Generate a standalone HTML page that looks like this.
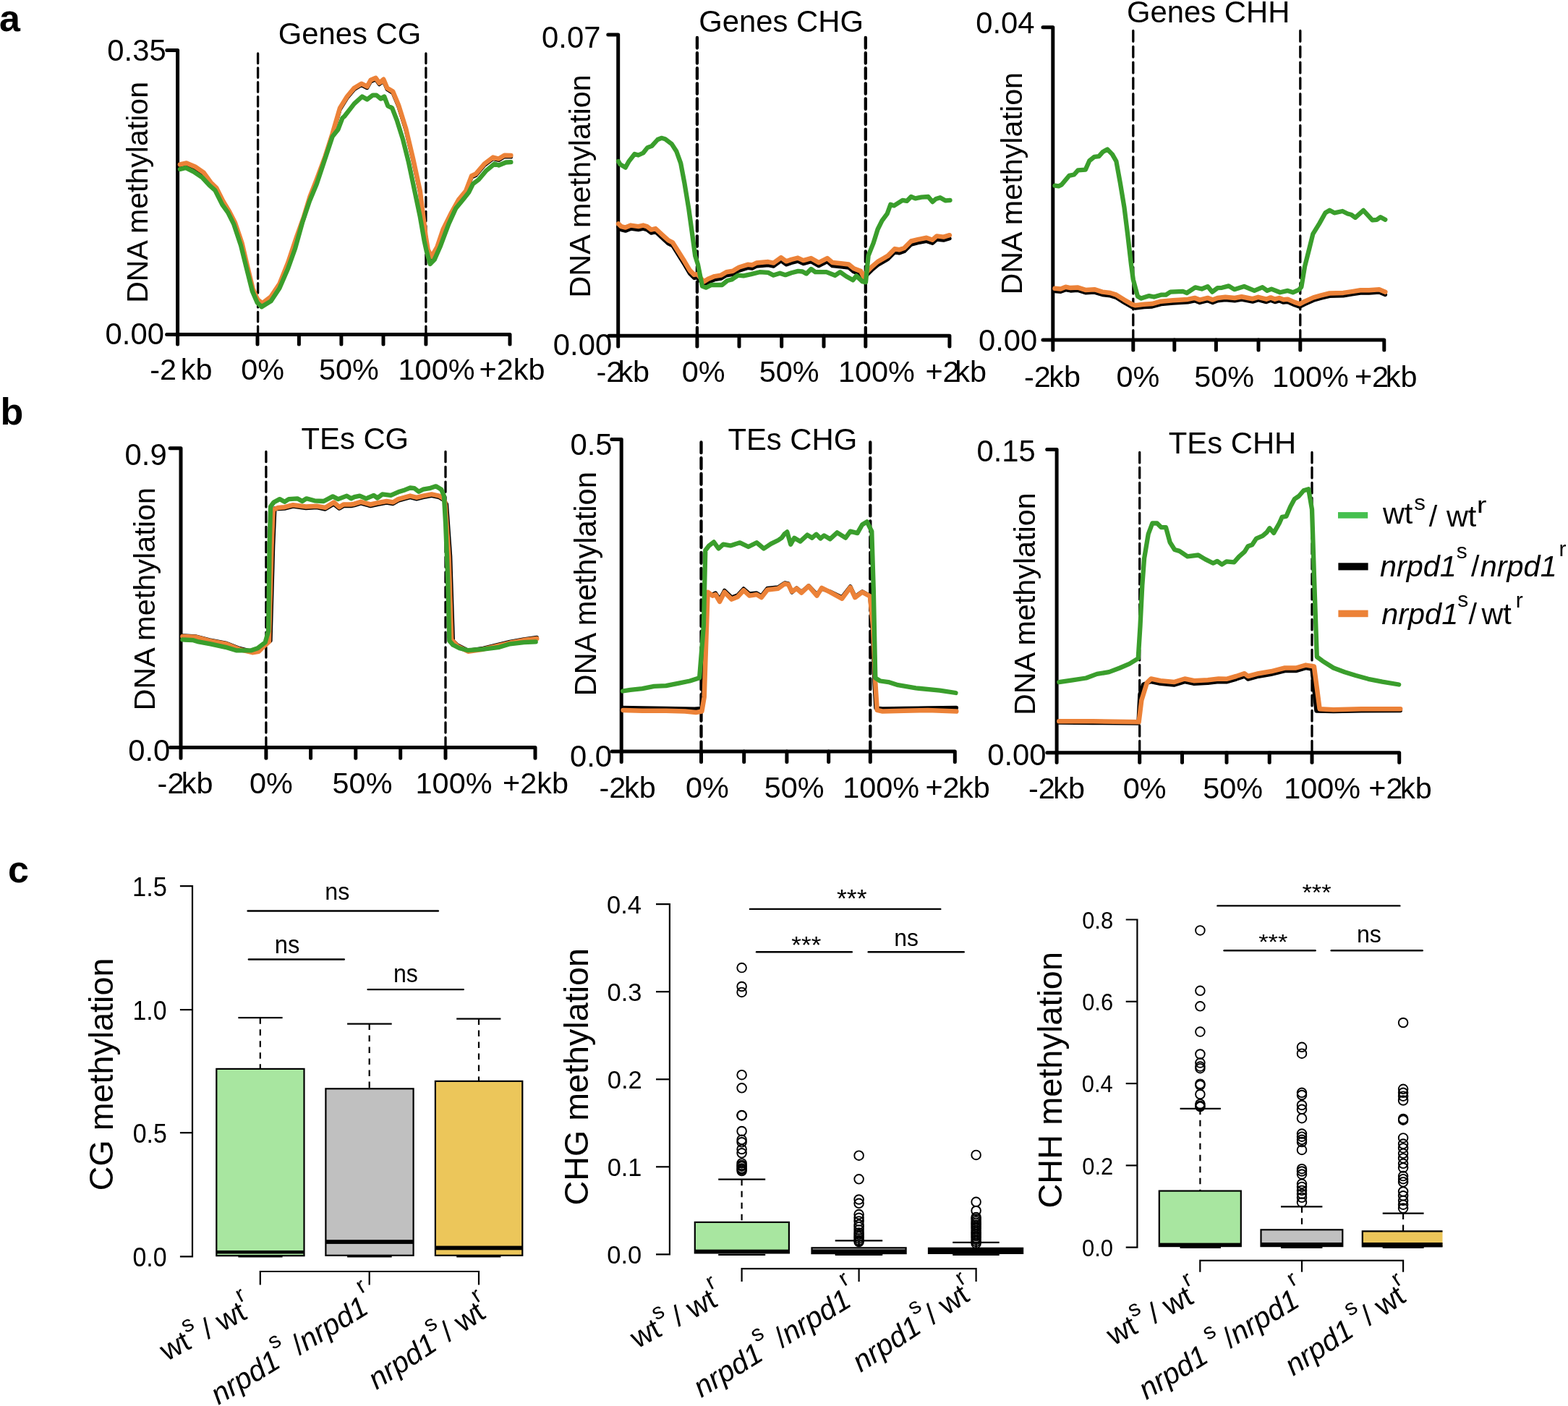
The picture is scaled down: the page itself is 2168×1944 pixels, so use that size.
<!DOCTYPE html>
<html><head><meta charset="utf-8"><title>Figure</title>
<style>
html,body{margin:0;padding:0;background:#fff;}
body{width:2168px;height:1944px;overflow:hidden;}
svg{display:block;font-family:"Liberation Sans", Arial, Helvetica, sans-serif;}
</style></head><body>
<svg xmlns="http://www.w3.org/2000/svg" width="2168" height="1944" viewBox="0 0 2168 1944">
<rect width="2168" height="1944" fill="#fff"/>
<text x="-1.0" y="42.5" font-size="52" text-anchor="start" font-weight="bold" font-style="normal" >a</text>
<text x="0.5" y="587.0" font-size="52" text-anchor="start" font-weight="bold" font-style="normal" >b</text>
<text x="11.0" y="1219.5" font-size="52" text-anchor="start" font-weight="bold" font-style="normal" >c</text>
<path d="M230.8,69.4 H245.6 V476.0" fill="none" stroke="#000" stroke-width="5.0" stroke-linecap="round" stroke-linejoin="round"/>
<path d="M230.6,462.6 H705.0 V476.0" fill="none" stroke="#000" stroke-width="5.0" stroke-linecap="round" stroke-linejoin="round"/>
<line x1="356.0" y1="462.6" x2="356.0" y2="476.0" stroke="#000" stroke-width="5.0" stroke-linecap="round"/>
<line x1="413.4" y1="462.6" x2="413.4" y2="476.0" stroke="#000" stroke-width="5.0" stroke-linecap="round"/>
<line x1="471.9" y1="462.6" x2="471.9" y2="476.0" stroke="#000" stroke-width="5.0" stroke-linecap="round"/>
<line x1="530.0" y1="462.6" x2="530.0" y2="476.0" stroke="#000" stroke-width="5.0" stroke-linecap="round"/>
<line x1="588.9" y1="462.6" x2="588.9" y2="476.0" stroke="#000" stroke-width="5.0" stroke-linecap="round"/>
<line x1="356.6" y1="74.0" x2="356.6" y2="462.6" stroke="#000" stroke-width="3.3" stroke-linecap="round" stroke-dasharray="13.50,6.35"/>
<line x1="588.9" y1="74.0" x2="588.9" y2="462.6" stroke="#000" stroke-width="3.3" stroke-linecap="round" stroke-dasharray="13.50,6.35"/>
<text x="148.3" y="83.8" font-size="41.8" text-anchor="start" font-weight="normal" font-style="normal" >0.35</text>
<text x="145.6" y="476.1" font-size="41.8" text-anchor="start" font-weight="normal" font-style="normal" >0.00</text>
<text x="384.7" y="61.2" font-size="41.8" text-anchor="start" font-weight="normal" font-style="normal" >Genes CG</text>
<text x="0" y="0" font-size="41.07" transform="translate(203.5,418.8) rotate(-90)">DNA methylation</text>
<text x="207.2" y="525.0" font-size="41.4" text-anchor="start" font-weight="normal" font-style="normal" >-2</text>
<text x="249.8" y="525.0" font-size="41.4" text-anchor="start" font-weight="normal" font-style="normal" >kb</text>
<text x="333.3" y="525.0" font-size="41.4" text-anchor="start" font-weight="normal" font-style="normal" >0%</text>
<text x="440.9" y="525.0" font-size="41.4" text-anchor="start" font-weight="normal" font-style="normal" >50%</text>
<text x="550.6" y="525.0" font-size="41.4" text-anchor="start" font-weight="normal" font-style="normal" >100%</text>
<text x="662.5" y="525.0" font-size="41.4" text-anchor="start" font-weight="normal" font-style="normal" >+2kb</text>
<polyline points="248.9,229.3 257.8,227.3 269.7,232.2 281.6,240.5 291.4,254.0 299.4,261.9 308.3,279.7 317.2,294.5 325.0,309.8 334.5,337.8 342.0,369.8 349.5,400.8 356.0,415.8 362.7,421.1 374.5,412.2 386.4,394.4 398.3,364.8 410.2,329.2 420.0,301.8 428.5,273.8 437.9,249.8 449.7,217.8 459.6,186.8 470.0,151.2 479.9,135.3 489.8,123.5 499.7,117.5 507.6,121.5 512.5,112.6 519.5,109.6 524.4,116.5 530.3,111.6 535.3,123.5 543.2,128.4 551.1,147.2 561.0,178.9 570.9,220.4 580.8,265.9 588.7,329.2 591.7,347.0 596.6,356.9 604.5,343.1 612.5,319.3 624.3,295.6 634.2,277.8 644.1,265.9 652.0,245.1 658.0,242.2 669.8,228.3 681.7,219.4 689.6,221.4 697.5,216.5 706.4,216.8" fill="none" stroke="#000" stroke-width="5.5" stroke-linejoin="round" stroke-linecap="round"/>
<polyline points="248.9,227.5 257.8,225.5 269.7,230.4 281.6,238.7 291.4,252.2 299.4,260.1 308.3,277.9 317.2,292.7 325.0,308.0 334.5,336.0 342.0,368.0 349.5,399.0 356.0,414.0 362.7,419.3 374.5,410.4 386.4,392.6 398.3,363.0 410.2,327.4 420.0,300.0 428.5,272.0 437.9,248.0 449.7,216.0 459.6,185.0 470.0,149.4 479.9,133.5 489.8,121.7 499.7,115.7 507.6,119.7 512.5,110.8 519.5,107.8 524.4,114.7 530.3,109.8 535.3,121.7 543.2,126.6 551.1,145.4 561.0,177.1 570.9,218.6 580.8,264.1 588.7,327.4 591.7,345.2 596.6,355.1 604.5,341.3 612.5,317.5 624.3,293.8 634.2,276.0 644.1,264.1 652.0,243.3 658.0,240.4 669.8,226.5 681.7,217.6 689.6,219.6 697.5,214.7 706.4,215.0" fill="none" stroke="#ec8238" stroke-width="6.5" stroke-linejoin="round" stroke-linecap="round"/>
<polyline points="248.9,234.0 256.8,232.0 267.7,237.4 279.6,245.3 289.5,256.2 297.4,263.1 307.3,282.9 315.2,293.8 323.1,309.6 333.0,339.3 340.9,371.0 348.8,402.6 355.7,418.4 361.7,424.3 374.5,416.4 386.4,398.6 398.3,370.9 408.2,343.2 418.1,307.6 428.0,278.0 437.9,254.2 447.8,224.5 459.6,188.9 467.5,179.0 473.5,163.2 475.9,161.2 489.8,143.4 500.7,133.5 507.6,137.5 515.5,131.6 520.5,131.6 526.4,136.5 531.3,133.5 536.3,146.4 542.2,149.4 549.1,167.2 557.1,192.9 565.0,224.5 572.9,262.1 580.8,299.7 586.7,333.4 589.7,347.2 594.7,365.0 600.6,359.1 608.5,341.3 620.4,309.6 630.3,287.9 640.2,276.0 648.1,266.1 654.0,254.2 661.9,248.3 671.8,236.4 683.7,226.5 689.6,228.5 699.5,224.5 706.4,224.1" fill="none" stroke="#3a9e2c" stroke-width="6.3" stroke-linejoin="round" stroke-linecap="round"/>
<path d="M840.8,48.0 H854.7 V478.9" fill="none" stroke="#000" stroke-width="5.0" stroke-linecap="round" stroke-linejoin="round"/>
<path d="M842.0,464.2 H1312.9 V478.9" fill="none" stroke="#000" stroke-width="5.0" stroke-linecap="round" stroke-linejoin="round"/>
<line x1="963.9" y1="464.2" x2="963.9" y2="478.9" stroke="#000" stroke-width="5.0" stroke-linecap="round"/>
<line x1="1022.0" y1="464.2" x2="1022.0" y2="478.9" stroke="#000" stroke-width="5.0" stroke-linecap="round"/>
<line x1="1080.7" y1="464.2" x2="1080.7" y2="478.9" stroke="#000" stroke-width="5.0" stroke-linecap="round"/>
<line x1="1139.0" y1="464.2" x2="1139.0" y2="478.9" stroke="#000" stroke-width="5.0" stroke-linecap="round"/>
<line x1="1196.8" y1="464.2" x2="1196.8" y2="478.9" stroke="#000" stroke-width="5.0" stroke-linecap="round"/>
<line x1="963.9" y1="52.0" x2="963.9" y2="464.2" stroke="#000" stroke-width="4.3" stroke-linecap="round" stroke-dasharray="14.50,6.60"/>
<line x1="1196.8" y1="52.0" x2="1196.8" y2="464.2" stroke="#000" stroke-width="4.3" stroke-linecap="round" stroke-dasharray="14.50,6.60"/>
<text x="749.1" y="65.8" font-size="41.8" text-anchor="start" font-weight="normal" font-style="normal" >0.07</text>
<text x="764.8" y="490.5" font-size="41.8" text-anchor="start" font-weight="normal" font-style="normal" >0.00</text>
<text x="966.3" y="43.5" font-size="41.8" text-anchor="start" font-weight="normal" font-style="normal" >Genes CHG</text>
<text x="0" y="0" font-size="41.44" transform="translate(816.2,411.7) rotate(-90)">DNA methylation</text>
<text x="824.5" y="528.0" font-size="41.4" text-anchor="start" font-weight="normal" font-style="normal" >-2</text>
<text x="854.4" y="528.0" font-size="41.4" text-anchor="start" font-weight="normal" font-style="normal" >kb</text>
<text x="942.8" y="528.0" font-size="41.4" text-anchor="start" font-weight="normal" font-style="normal" >0%</text>
<text x="1049.7" y="528.0" font-size="41.4" text-anchor="start" font-weight="normal" font-style="normal" >50%</text>
<text x="1159.0" y="528.0" font-size="41.4" text-anchor="start" font-weight="normal" font-style="normal" >100%</text>
<text x="1279.4" y="528.0" font-size="41.4" text-anchor="start" font-weight="normal" font-style="normal" >+2</text>
<text x="1320.2" y="528.0" font-size="41.4" text-anchor="start" font-weight="normal" font-style="normal" >kb</text>
<polyline points="855.0,313.9 858.9,317.6 864.8,319.1 872.2,316.1 882.6,317.6 889.3,316.1 894.5,317.6 900.4,322.1 906.4,320.6 915.3,328.8 924.2,336.9 930.1,339.9 939.0,354.0 946.4,365.8 953.8,378.4 959.8,384.4 964.2,383.6 973.1,394.0 979.0,390.3 987.9,386.6 996.8,385.1 1004.3,380.7 1013.2,379.2 1022.0,374.0 1033.9,370.3 1039.9,371.0 1045.8,368.1 1062.1,366.6 1069.5,368.1 1079.9,360.6 1087.1,365.8 1094.2,363.4 1103.1,361.1 1110.7,364.6 1121.4,361.6 1132.0,367.6 1143.8,361.6 1150.9,367.6 1162.8,368.7 1173.4,369.9 1180.5,375.8 1190.0,379.4 1194.1,387.1 1199.4,379.4 1205.3,373.5 1213.6,366.4 1221.9,361.6 1227.8,358.1 1237.2,348.6 1243.2,349.8 1250.2,347.5 1259.7,338.0 1269.2,335.6 1281.0,333.3 1289.3,336.2 1295.2,330.9 1304.6,332.1 1312.9,329.7" fill="none" stroke="#000" stroke-width="5.5" stroke-linejoin="round" stroke-linecap="round"/>
<polyline points="855.0,309.4 858.9,313.1 864.8,314.6 872.2,311.6 882.6,313.1 889.3,311.6 894.5,313.1 900.4,317.6 906.4,316.1 915.3,324.3 924.2,332.4 930.1,335.4 939.0,349.5 946.4,361.3 953.8,373.9 959.8,379.9 964.2,379.1 973.1,389.5 979.0,385.8 987.9,382.1 996.8,380.6 1004.3,376.2 1013.2,374.7 1022.0,369.5 1033.9,365.8 1039.9,366.5 1045.8,363.6 1062.1,362.1 1069.5,363.6 1079.9,356.1 1087.1,361.3 1094.2,358.9 1103.1,356.6 1110.7,360.1 1121.4,357.1 1132.0,363.1 1143.8,357.1 1150.9,363.1 1162.8,364.2 1173.4,365.4 1180.5,371.3 1190.0,374.9 1194.1,382.6 1199.4,374.9 1205.3,369.0 1213.6,361.9 1221.9,357.1 1227.8,353.6 1237.2,344.1 1243.2,345.3 1250.2,343.0 1259.7,333.5 1269.2,331.1 1281.0,328.8 1289.3,331.7 1295.2,326.4 1304.6,327.6 1312.9,325.2" fill="none" stroke="#ec8238" stroke-width="6.5" stroke-linejoin="round" stroke-linecap="round"/>
<polyline points="855.0,223.0 857.4,227.1 864.8,231.6 869.3,223.4 877.4,213.0 882.6,214.5 889.3,211.5 895.2,204.1 901.2,201.9 909.3,193.0 914.5,190.8 919.7,192.2 928.6,198.9 935.3,209.3 941.2,225.6 946.4,253.1 952.3,288.7 956.8,321.3 961.2,353.9 965.0,365.8 970.9,395.5 976.1,397.7 983.5,394.0 998.3,394.0 1005.7,388.0 1011.7,386.5 1020.6,380.6 1028.0,381.4 1038.4,379.1 1050.2,376.2 1062.1,376.9 1069.5,380.6 1078.4,377.7 1085.9,380.2 1094.2,377.2 1103.6,374.9 1109.6,375.5 1114.9,378.4 1121.4,371.9 1127.3,376.1 1142.7,376.1 1154.5,380.8 1161.6,376.1 1169.9,382.0 1179.3,387.3 1184.0,381.4 1192.3,389.1 1197.0,390.3 1200.6,353.6 1207.7,335.9 1213.6,317.0 1219.5,305.1 1226.6,295.7 1231.3,282.7 1236.1,284.4 1247.9,276.8 1253.8,277.9 1259.7,272.0 1265.6,274.4 1273.9,272.6 1283.4,272.0 1289.3,279.1 1294.0,275.0 1299.9,273.2 1307.0,277.3 1313.5,276.8" fill="none" stroke="#3a9e2c" stroke-width="6.3" stroke-linejoin="round" stroke-linecap="round"/>
<path d="M1442.0,37.7 H1455.8 V484.1" fill="none" stroke="#000" stroke-width="5.0" stroke-linecap="round" stroke-linejoin="round"/>
<path d="M1442.0,470.0 H1913.8 V484.1" fill="none" stroke="#000" stroke-width="5.0" stroke-linecap="round" stroke-linejoin="round"/>
<line x1="1566.8" y1="470.0" x2="1566.8" y2="484.1" stroke="#000" stroke-width="5.0" stroke-linecap="round"/>
<line x1="1623.8" y1="470.0" x2="1623.8" y2="484.1" stroke="#000" stroke-width="5.0" stroke-linecap="round"/>
<line x1="1681.4" y1="470.0" x2="1681.4" y2="484.1" stroke="#000" stroke-width="5.0" stroke-linecap="round"/>
<line x1="1740.0" y1="470.0" x2="1740.0" y2="484.1" stroke="#000" stroke-width="5.0" stroke-linecap="round"/>
<line x1="1797.8" y1="470.0" x2="1797.8" y2="484.1" stroke="#000" stroke-width="5.0" stroke-linecap="round"/>
<line x1="1566.8" y1="42.5" x2="1566.8" y2="470.0" stroke="#000" stroke-width="3.3" stroke-linecap="round" stroke-dasharray="14.80,7.00"/>
<line x1="1797.8" y1="42.5" x2="1797.8" y2="470.0" stroke="#000" stroke-width="3.3" stroke-linecap="round" stroke-dasharray="14.80,7.00"/>
<text x="1349.2" y="46.2" font-size="41.8" text-anchor="start" font-weight="normal" font-style="normal" >0.04</text>
<text x="1352.9" y="485.2" font-size="41.8" text-anchor="start" font-weight="normal" font-style="normal" >0.00</text>
<text x="1558.0" y="30.5" font-size="41.8" text-anchor="start" font-weight="normal" font-style="normal" >Genes CHH</text>
<text x="0" y="0" font-size="41.32" transform="translate(1412.6,407.6) rotate(-90)">DNA methylation</text>
<text x="1416.0" y="535.0" font-size="41.4" text-anchor="start" font-weight="normal" font-style="normal" >-2</text>
<text x="1450.2" y="535.0" font-size="41.4" text-anchor="start" font-weight="normal" font-style="normal" >kb</text>
<text x="1543.6" y="535.0" font-size="41.4" text-anchor="start" font-weight="normal" font-style="normal" >0%</text>
<text x="1651.2" y="535.0" font-size="41.4" text-anchor="start" font-weight="normal" font-style="normal" >50%</text>
<text x="1759.0" y="535.0" font-size="41.4" text-anchor="start" font-weight="normal" font-style="normal" >100%</text>
<text x="1872.9" y="535.0" font-size="41.4" text-anchor="start" font-weight="normal" font-style="normal" >+2</text>
<text x="1915.8" y="535.0" font-size="41.4" text-anchor="start" font-weight="normal" font-style="normal" >kb</text>
<polyline points="1458.5,402.6 1466.5,403.3 1473.4,400.6 1480.2,401.9 1489.8,401.2 1500.8,404.7 1513.2,404.0 1524.2,407.4 1535.2,408.8 1543.4,411.5 1554.4,418.4 1565.4,424.6 1569.5,426.0 1581.9,424.6 1592.9,423.9 1605.2,420.5 1621.7,419.1 1642.3,417.7 1651.9,415.7 1658.8,418.4 1669.8,415.7 1676.7,418.4 1683.5,415.7 1694.2,414.6 1707.2,415.8 1716.7,414.0 1732.0,417.0 1739.7,414.6 1750.9,417.5 1756.9,415.2 1762.8,417.5 1768.7,415.8 1774.6,418.1 1780.5,417.5 1790.0,421.7 1797.0,424.1 1804.1,420.5 1816.0,415.2 1826.6,412.2 1838.4,409.3 1857.3,408.7 1869.2,406.9 1881.0,405.1 1892.8,405.1 1907.0,404.0 1915.3,407.5" fill="none" stroke="#000" stroke-width="5.5" stroke-linejoin="round" stroke-linecap="round"/>
<polyline points="1458.5,398.8 1466.5,399.5 1473.4,396.8 1480.2,398.1 1489.8,397.4 1500.8,400.9 1513.2,400.2 1524.2,403.6 1535.2,405.0 1543.4,407.7 1554.4,414.6 1565.4,420.8 1569.5,422.2 1581.9,420.8 1592.9,420.1 1605.2,416.7 1621.7,415.3 1642.3,413.9 1651.9,411.9 1658.8,414.6 1669.8,411.9 1676.7,414.6 1683.5,411.9 1694.2,410.8 1707.2,412.0 1716.7,410.2 1732.0,413.2 1739.7,410.8 1750.9,413.7 1756.9,411.4 1762.8,413.7 1768.7,412.0 1774.6,414.3 1780.5,413.7 1790.0,417.9 1797.0,420.3 1804.1,416.7 1816.0,411.4 1826.6,408.4 1838.4,405.5 1857.3,404.9 1869.2,403.1 1881.0,401.3 1892.8,401.3 1907.0,400.2 1915.3,403.7" fill="none" stroke="#ec8238" stroke-width="6.5" stroke-linejoin="round" stroke-linecap="round"/>
<polyline points="1458.5,256.6 1463.7,257.3 1467.9,255.3 1478.2,242.9 1485.0,241.5 1490.5,235.3 1500.8,234.6 1506.3,222.3 1513.2,216.8 1519.4,216.1 1524.9,209.9 1531.1,206.5 1537.9,213.4 1543.4,223.0 1548.9,253.2 1554.4,286.2 1559.2,324.6 1564.0,365.8 1566.8,386.5 1573.0,409.8 1577.8,412.6 1588.8,409.1 1595.6,410.5 1605.2,407.7 1612.1,407.7 1618.3,403.6 1635.5,402.9 1641.0,405.0 1652.6,397.4 1661.6,399.5 1669.8,396.1 1676.0,403.6 1683.5,398.1 1689.5,397.8 1698.9,395.4 1706.6,400.2 1720.2,396.0 1734.4,401.9 1745.6,397.2 1752.1,401.9 1758.0,399.6 1769.9,404.3 1780.5,401.9 1787.6,404.3 1795.9,400.7 1799.4,396.6 1804.1,368.2 1810.1,344.6 1815.4,323.3 1824.2,309.1 1832.5,294.3 1838.4,290.8 1844.9,294.3 1856.2,292.0 1863.3,295.5 1868.0,296.7 1873.9,300.8 1885.1,290.8 1897.5,304.4 1903.5,303.8 1908.8,300.2 1915.3,303.8" fill="none" stroke="#3a9e2c" stroke-width="6.3" stroke-linejoin="round" stroke-linecap="round"/>
<path d="M235.1,619.8 H250.0 V1048.3" fill="none" stroke="#000" stroke-width="5.0" stroke-linecap="round" stroke-linejoin="round"/>
<path d="M235.4,1033.5 H740.0 V1048.3" fill="none" stroke="#000" stroke-width="5.0" stroke-linecap="round" stroke-linejoin="round"/>
<line x1="367.9" y1="1033.5" x2="367.9" y2="1048.3" stroke="#000" stroke-width="5.0" stroke-linecap="round"/>
<line x1="429.6" y1="1033.5" x2="429.6" y2="1048.3" stroke="#000" stroke-width="5.0" stroke-linecap="round"/>
<line x1="491.8" y1="1033.5" x2="491.8" y2="1048.3" stroke="#000" stroke-width="5.0" stroke-linecap="round"/>
<line x1="553.7" y1="1033.5" x2="553.7" y2="1048.3" stroke="#000" stroke-width="5.0" stroke-linecap="round"/>
<line x1="616.0" y1="1033.5" x2="616.0" y2="1048.3" stroke="#000" stroke-width="5.0" stroke-linecap="round"/>
<line x1="367.9" y1="624.5" x2="367.9" y2="1033.5" stroke="#000" stroke-width="3.3" stroke-linecap="round" stroke-dasharray="14.20,6.60"/>
<line x1="616.0" y1="624.5" x2="616.0" y2="1033.5" stroke="#000" stroke-width="3.3" stroke-linecap="round" stroke-dasharray="14.20,6.60"/>
<text x="172.6" y="643.1" font-size="41.8" text-anchor="start" font-weight="normal" font-style="normal" >0.9</text>
<text x="177.2" y="1052.4" font-size="41.8" text-anchor="start" font-weight="normal" font-style="normal" >0.0</text>
<text x="416.5" y="621.4" font-size="41.8" text-anchor="start" font-weight="normal" font-style="normal" >TEs CG</text>
<text x="0" y="0" font-size="41.44" transform="translate(213.5,982.6) rotate(-90)">DNA methylation</text>
<text x="217.6" y="1096.6" font-size="41.4" text-anchor="start" font-weight="normal" font-style="normal" >-2</text>
<text x="250.8" y="1096.6" font-size="41.4" text-anchor="start" font-weight="normal" font-style="normal" >kb</text>
<text x="344.9" y="1096.6" font-size="41.4" text-anchor="start" font-weight="normal" font-style="normal" >0%</text>
<text x="459.6" y="1096.6" font-size="41.4" text-anchor="start" font-weight="normal" font-style="normal" >50%</text>
<text x="574.6" y="1096.6" font-size="41.4" text-anchor="start" font-weight="normal" font-style="normal" >100%</text>
<text x="695.0" y="1096.6" font-size="41.4" text-anchor="start" font-weight="normal" font-style="normal" >+2kb</text>
<polyline points="252.4,879.0 270.2,880.0 289.5,885.0 313.2,889.5 331.1,896.5 348.9,901.0 357.8,899.5 365.2,892.0 373.9,886.0 377.6,753.9 379.8,703.0 384.5,703.5 393.4,703.0 405.2,700.0 423.0,702.5 437.9,701.5 449.7,704.0 461.6,697.0 469.0,703.0 475.0,699.5 485.4,699.5 490.0,698.5 498.9,695.8 512.3,699.5 522.6,697.2 534.5,695.0 543.4,696.5 550.8,692.1 567.1,687.6 576.0,689.8 584.9,687.6 596.8,685.4 607.2,687.6 613.1,691.0 617.4,697.0 622.5,768.7 626.3,885.9 632.4,892.0 647.2,899.5 668.0,896.5 705.1,887.5 724.4,884.0 742.2,881.5" fill="none" stroke="#000" stroke-width="5.5" stroke-linejoin="round" stroke-linecap="round"/>
<polyline points="252.4,880.0 270.2,880.7 289.5,885.9 313.2,890.4 331.1,897.8 348.9,902.2 357.8,900.7 365.2,893.3 371.9,887.4 375.6,753.9 377.8,704.9 384.5,701.9 393.4,701.2 405.2,698.2 423.0,700.4 437.9,699.7 449.7,701.9 461.6,694.5 469.0,701.2 475.0,697.5 485.4,697.5 490.0,696.7 498.9,693.8 512.3,697.5 522.6,695.2 534.5,693.0 543.4,694.5 550.8,690.1 567.1,685.6 576.0,687.8 584.9,685.6 596.8,683.4 607.2,685.6 613.1,689.3 615.4,694.5 620.5,768.7 624.3,884.4 632.4,893.3 647.2,900.7 668.0,897.7 705.1,888.8 724.4,885.1 742.2,882.9" fill="none" stroke="#ec8238" stroke-width="6.5" stroke-linejoin="round" stroke-linecap="round"/>
<polyline points="252.4,884.4 267.3,885.2 274.7,887.4 291.0,890.4 311.8,894.8 326.6,899.3 347.4,899.3 356.3,896.3 366.7,888.1 371.1,872.6 372.6,753.9 374.1,700.4 378.5,694.5 386.7,690.1 393.4,693.8 399.3,690.1 411.2,689.3 417.8,693.0 423.8,689.3 434.9,692.3 447.5,693.0 460.1,686.4 467.5,690.1 479.4,685.6 485.4,689.3 490.0,687.1 497.4,685.6 506.3,689.3 516.7,684.9 521.9,688.6 528.6,683.4 540.4,684.9 552.3,679.7 559.7,677.4 567.1,674.5 573.1,675.2 579.0,679.7 584.9,676.7 593.8,675.2 602.7,672.3 610.2,676.7 613.9,685.6 616.1,724.2 619.1,798.3 621.3,885.9 626.5,891.8 635.4,896.3 647.2,899.2 668.0,897.7 690.3,894.8 705.1,890.3 724.4,888.1 740.7,887.4" fill="none" stroke="#3a9e2c" stroke-width="6.3" stroke-linejoin="round" stroke-linecap="round"/>
<path d="M845.8,607.6 H859.2 V1053.5" fill="none" stroke="#000" stroke-width="5.0" stroke-linecap="round" stroke-linejoin="round"/>
<path d="M846.1,1039.0 H1320.3 V1053.5" fill="none" stroke="#000" stroke-width="5.0" stroke-linecap="round" stroke-linejoin="round"/>
<line x1="969.5" y1="1039.0" x2="969.5" y2="1053.5" stroke="#000" stroke-width="5.0" stroke-linecap="round"/>
<line x1="1028.7" y1="1039.0" x2="1028.7" y2="1053.5" stroke="#000" stroke-width="5.0" stroke-linecap="round"/>
<line x1="1087.9" y1="1039.0" x2="1087.9" y2="1053.5" stroke="#000" stroke-width="5.0" stroke-linecap="round"/>
<line x1="1145.7" y1="1039.0" x2="1145.7" y2="1053.5" stroke="#000" stroke-width="5.0" stroke-linecap="round"/>
<line x1="1203.3" y1="1039.0" x2="1203.3" y2="1053.5" stroke="#000" stroke-width="5.0" stroke-linecap="round"/>
<line x1="969.5" y1="611.4" x2="969.5" y2="1039.0" stroke="#000" stroke-width="4.3" stroke-linecap="round" stroke-dasharray="14.80,7.00"/>
<line x1="1203.3" y1="611.4" x2="1203.3" y2="1039.0" stroke="#000" stroke-width="4.3" stroke-linecap="round" stroke-dasharray="14.80,7.00"/>
<text x="788.4" y="628.8" font-size="41.8" text-anchor="start" font-weight="normal" font-style="normal" >0.5</text>
<text x="787.9" y="1060.4" font-size="41.8" text-anchor="start" font-weight="normal" font-style="normal" >0.0</text>
<text x="1006.4" y="622.4" font-size="41.8" text-anchor="start" font-weight="normal" font-style="normal" >TEs CHG</text>
<text x="0" y="0" font-size="41.69" transform="translate(823.5,962.6) rotate(-90)">DNA methylation</text>
<text x="828.5" y="1103.0" font-size="41.4" text-anchor="start" font-weight="normal" font-style="normal" >-2</text>
<text x="863.0" y="1103.0" font-size="41.4" text-anchor="start" font-weight="normal" font-style="normal" >kb</text>
<text x="947.9" y="1103.0" font-size="41.4" text-anchor="start" font-weight="normal" font-style="normal" >0%</text>
<text x="1056.8" y="1103.0" font-size="41.4" text-anchor="start" font-weight="normal" font-style="normal" >50%</text>
<text x="1165.3" y="1103.0" font-size="41.4" text-anchor="start" font-weight="normal" font-style="normal" >100%</text>
<text x="1279.4" y="1103.0" font-size="41.4" text-anchor="start" font-weight="normal" font-style="normal" >+2</text>
<text x="1325.0" y="1103.0" font-size="41.4" text-anchor="start" font-weight="normal" font-style="normal" >kb</text>
<polyline points="860.0,978.5 888.0,979.0 920.9,979.5 947.3,980.0 960.5,980.2 970.0,979.5 972.0,960.0 975.0,860.0 977.0,822.0 985.2,822.0 989.3,820.0 995.1,829.0 1001.7,816.5 1011.6,826.0 1019.8,823.0 1028.1,814.0 1036.3,821.0 1046.2,820.0 1052.8,824.0 1061.0,813.5 1075.9,812.0 1085.0,806.0 1090.0,807.0 1094.9,819.0 1101.5,813.0 1108.1,818.5 1118.0,810.0 1129.5,822.0 1136.1,814.0 1147.6,818.0 1164.1,826.0 1175.7,811.0 1182.2,825.0 1192.1,818.0 1202.9,824.0 1206.0,864.8 1209.0,943.9 1211.0,979.0 1220.2,980.0 1249.8,979.5 1282.8,979.0 1322.3,978.6" fill="none" stroke="#000" stroke-width="5.5" stroke-linejoin="round" stroke-linecap="round"/>
<polyline points="861.6,981.9 888.0,982.7 920.9,982.7 947.3,983.5 962.1,985.1 970.4,983.5 973.7,963.7 977.0,864.8 978.6,818.7 985.2,823.6 989.3,822.0 995.1,831.9 1001.7,818.7 1011.6,828.6 1019.8,825.3 1028.1,816.2 1036.3,823.6 1046.2,822.0 1052.8,826.1 1061.0,815.4 1075.9,813.7 1085.0,807.1 1090.0,808.0 1094.9,817.9 1101.5,813.7 1108.1,819.5 1118.0,810.4 1129.5,823.6 1136.1,812.9 1147.6,818.7 1164.1,827.7 1175.7,812.1 1182.2,826.1 1192.1,818.7 1202.9,824.4 1207.0,864.8 1210.3,943.9 1212.7,981.9 1220.2,983.5 1249.8,982.7 1282.8,981.9 1322.3,983.5" fill="none" stroke="#ec8238" stroke-width="6.5" stroke-linejoin="round" stroke-linecap="round"/>
<polyline points="861.0,955.5 871.5,953.8 888.0,952.2 904.4,948.9 920.9,948.1 937.4,944.8 953.9,941.5 967.1,937.3 972.9,864.8 975.3,761.0 980.3,754.4 986.9,749.4 993.5,758.5 1000.0,752.7 1009.9,754.4 1023.1,750.3 1034.7,756.0 1046.2,750.3 1056.1,758.5 1066.0,751.9 1075.9,747.0 1080.8,743.7 1085.0,737.9 1088.3,735.4 1093.2,752.7 1098.2,743.7 1106.4,748.6 1116.3,739.6 1122.9,743.7 1128.7,738.7 1134.4,744.5 1139.4,740.4 1147.6,745.3 1157.5,736.3 1169.1,743.7 1175.7,734.6 1185.5,737.1 1192.1,725.5 1198.7,721.4 1205.3,734.6 1207.8,815.4 1210.3,937.3 1216.9,941.5 1228.4,943.1 1241.6,947.2 1266.3,951.4 1299.3,954.7 1321.5,958.0" fill="none" stroke="#3a9e2c" stroke-width="6.3" stroke-linejoin="round" stroke-linecap="round"/>
<path d="M1447.7,621.6 H1461.1 V1054.3" fill="none" stroke="#000" stroke-width="5.0" stroke-linecap="round" stroke-linejoin="round"/>
<path d="M1447.8,1040.7 H1934.7 V1054.3" fill="none" stroke="#000" stroke-width="5.0" stroke-linecap="round" stroke-linejoin="round"/>
<line x1="1575.7" y1="1040.7" x2="1575.7" y2="1054.3" stroke="#000" stroke-width="5.0" stroke-linecap="round"/>
<line x1="1634.5" y1="1040.7" x2="1634.5" y2="1054.3" stroke="#000" stroke-width="5.0" stroke-linecap="round"/>
<line x1="1696.0" y1="1040.7" x2="1696.0" y2="1054.3" stroke="#000" stroke-width="5.0" stroke-linecap="round"/>
<line x1="1755.2" y1="1040.7" x2="1755.2" y2="1054.3" stroke="#000" stroke-width="5.0" stroke-linecap="round"/>
<line x1="1814.0" y1="1040.7" x2="1814.0" y2="1054.3" stroke="#000" stroke-width="5.0" stroke-linecap="round"/>
<line x1="1575.7" y1="625.5" x2="1575.7" y2="1040.7" stroke="#000" stroke-width="3.3" stroke-linecap="round" stroke-dasharray="14.40,6.60"/>
<line x1="1814.0" y1="625.5" x2="1814.0" y2="1040.7" stroke="#000" stroke-width="3.3" stroke-linecap="round" stroke-dasharray="14.40,6.60"/>
<text x="1350.4" y="637.9" font-size="41.8" text-anchor="start" font-weight="normal" font-style="normal" >0.15</text>
<text x="1365.2" y="1058.2" font-size="41.8" text-anchor="start" font-weight="normal" font-style="normal" >0.00</text>
<text x="1615.8" y="627.2" font-size="41.8" text-anchor="start" font-weight="normal" font-style="normal" >TEs CHH</text>
<text x="0" y="0" font-size="41.32" transform="translate(1430.8,989.0) rotate(-90)">DNA methylation</text>
<text x="1422.0" y="1104.3" font-size="41.4" text-anchor="start" font-weight="normal" font-style="normal" >-2</text>
<text x="1456.3" y="1104.3" font-size="41.4" text-anchor="start" font-weight="normal" font-style="normal" >kb</text>
<text x="1552.8" y="1104.3" font-size="41.4" text-anchor="start" font-weight="normal" font-style="normal" >0%</text>
<text x="1663.3" y="1104.3" font-size="41.4" text-anchor="start" font-weight="normal" font-style="normal" >50%</text>
<text x="1775.3" y="1104.3" font-size="41.4" text-anchor="start" font-weight="normal" font-style="normal" >100%</text>
<text x="1892.3" y="1104.3" font-size="41.4" text-anchor="start" font-weight="normal" font-style="normal" >+2</text>
<text x="1936.0" y="1104.3" font-size="41.4" text-anchor="start" font-weight="normal" font-style="normal" >kb</text>
<polyline points="1464.3,999.0 1511.1,999.5 1574.0,1000.0 1576.0,960.0 1581.0,946.0 1591.4,942.5 1604.5,945.3 1623.2,947.1 1638.1,942.5 1651.2,945.3 1670.0,944.3 1684.9,942.5 1695.8,942.8 1709.2,939.0 1720.8,935.2 1725.6,939.0 1740.0,935.2 1757.3,932.3 1776.5,927.5 1791.9,927.5 1805.4,923.6 1814.0,925.0 1820.0,983.0 1843.8,983.5 1882.3,982.7 1936.2,982.5" fill="none" stroke="#000" stroke-width="5.5" stroke-linejoin="round" stroke-linecap="round"/>
<polyline points="1464.3,997.3 1511.1,997.3 1574.6,998.3 1578.3,968.4 1585.8,944.1 1591.4,938.5 1604.5,941.3 1623.2,943.1 1638.1,938.5 1651.2,941.3 1670.0,940.3 1684.9,938.5 1695.8,938.8 1709.2,935.0 1720.8,931.2 1725.6,935.0 1740.0,931.2 1757.3,928.3 1776.5,923.5 1791.9,923.5 1805.4,919.6 1816.9,921.5 1824.6,980.2 1843.8,981.2 1882.3,980.2 1936.2,980.2" fill="none" stroke="#ec8238" stroke-width="6.5" stroke-linejoin="round" stroke-linecap="round"/>
<polyline points="1464.3,943.1 1483.0,940.3 1501.7,937.5 1516.7,931.9 1533.5,929.1 1548.4,923.5 1561.5,917.9 1573.7,910.4 1576.5,865.6 1579.3,809.5 1582.1,772.1 1587.7,738.5 1593.3,723.5 1599.8,723.5 1605.4,729.1 1612.0,729.1 1617.6,749.7 1624.1,760.0 1630.7,761.9 1641.9,769.3 1656.8,767.5 1666.2,773.1 1677.4,778.7 1683.0,775.9 1689.5,780.5 1695.8,776.3 1706.3,777.3 1713.1,769.6 1720.8,762.9 1725.6,755.2 1731.3,753.3 1737.1,744.6 1745.8,740.8 1751.5,736.0 1755.4,730.2 1761.2,736.9 1768.8,723.5 1772.7,714.8 1778.5,713.8 1784.2,700.4 1790.0,689.8 1795.8,686.0 1802.5,678.3 1809.2,676.3 1814.0,704.2 1816.9,794.6 1820.8,908.1 1828.5,913.8 1843.8,923.5 1859.2,929.2 1874.6,934.0 1891.9,938.8 1911.2,942.7 1934.2,946.5" fill="none" stroke="#3a9e2c" stroke-width="6.3" stroke-linejoin="round" stroke-linecap="round"/>
<rect x="1850" y="708.1" width="41.2" height="8.6" fill="#46c04f"/>
<rect x="1850.4" y="778.3" width="41.2" height="10.1" fill="#000"/>
<rect x="1850.4" y="843.6" width="41.2" height="9.6" fill="#ec8238"/>
<text x="1911.9" y="724.4" font-size="41.4" text-anchor="start" font-weight="normal" font-style="normal" >wt</text>
<text x="0" y="0" font-size="30" transform="translate(1955.21,705.30) scale(1.05,1)">s</text>
<text x="1975.7" y="728.0" font-size="41.4" text-anchor="start" font-weight="normal" font-style="normal" >/</text>
<text x="1999.9" y="728.4" font-size="41.4" text-anchor="start" font-weight="normal" font-style="normal" >wt</text>
<text x="0" y="0" font-size="30.5" transform="translate(2041.70,708.50) scale(1.35,1)">r</text>
<text x="1908.0" y="797.1" font-size="41.4" text-anchor="start" font-weight="normal" font-style="italic" >nrpd1</text>
<text x="2013.8" y="771.6" font-size="30" text-anchor="start" font-weight="normal" font-style="normal" >s</text>
<text x="2033.9" y="797.1" font-size="41.4" text-anchor="start" font-weight="normal" font-style="normal" >/</text>
<text x="2046.8" y="797.1" font-size="41.4" text-anchor="start" font-weight="normal" font-style="italic" >nrpd1</text>
<text x="2155.4" y="768.7" font-size="30" text-anchor="start" font-weight="normal" font-style="normal" >r</text>
<text x="1910.3" y="863.4" font-size="41.4" text-anchor="start" font-weight="normal" font-style="italic" >nrpd1</text>
<text x="2015.3" y="839.4" font-size="30" text-anchor="start" font-weight="normal" font-style="normal" >s</text>
<text x="2030.6" y="863.4" font-size="41.4" text-anchor="start" font-weight="normal" font-style="normal" >/</text>
<text x="2048.4" y="863.4" font-size="41.4" text-anchor="start" font-weight="normal" font-style="normal" >wt</text>
<text x="2095.7" y="839.7" font-size="30" text-anchor="start" font-weight="normal" font-style="normal" >r</text>
<path d="M248.9,1225.2 H266.0 V1737.4 H248.9" fill="none" stroke="#000" stroke-width="2.2" stroke-linejoin="miter"/>
<line x1="248.9" y1="1396.1" x2="266.0" y2="1396.1" stroke="#000" stroke-width="2.2" stroke-linecap="butt"/>
<line x1="248.9" y1="1566.2" x2="266.0" y2="1566.2" stroke="#000" stroke-width="2.2" stroke-linecap="butt"/>
<text x="0" y="0" font-size="37.57" font-style="normal" transform="translate(183.02,1238.95) scale(0.918,1)">1.5</text>
<text x="0" y="0" font-size="36.91" font-style="normal" transform="translate(183.58,1409.85) scale(0.916,1)">1.0</text>
<text x="0" y="0" font-size="36.91" font-style="normal" transform="translate(183.66,1579.95) scale(0.919,1)">0.5</text>
<text x="0" y="0" font-size="36.91" font-style="normal" transform="translate(183.45,1751.15) scale(0.919,1)">0.0</text>
<text x="0" y="0" font-size="46.66" transform="translate(156.2,1646.2) rotate(-90)">CG methylation</text>
<line x1="359.8" y1="1407.2" x2="359.8" y2="1477.9" stroke="#000" stroke-width="2.2" stroke-dasharray="8.5,7.5"/>
<line x1="329.4" y1="1407.2" x2="390.6" y2="1407.2" stroke="#000" stroke-width="2.2" stroke-linecap="butt"/>
<line x1="329.4" y1="1737.4" x2="390.6" y2="1737.4" stroke="#000" stroke-width="2.2" stroke-linecap="butt"/>
<rect x="299.3" y="1477.9" width="121.2" height="258.3" fill="#a8e6a0" stroke="#000" stroke-width="2.2"/>
<rect x="299.3" y="1729.0" width="121.2" height="4.5" fill="#000"/>
<line x1="510.7" y1="1415.6" x2="510.7" y2="1505.3" stroke="#000" stroke-width="2.2" stroke-dasharray="8.5,7.5"/>
<line x1="480.1" y1="1415.6" x2="541.7" y2="1415.6" stroke="#000" stroke-width="2.2" stroke-linecap="butt"/>
<line x1="480.1" y1="1737.4" x2="541.7" y2="1737.4" stroke="#000" stroke-width="2.2" stroke-linecap="butt"/>
<rect x="450.4" y="1505.3" width="121.2" height="230.5" fill="#c0c0c0" stroke="#000" stroke-width="2.2"/>
<rect x="450.4" y="1714.2" width="121.2" height="5.7" fill="#000"/>
<line x1="662.0" y1="1408.6" x2="662.0" y2="1494.9" stroke="#000" stroke-width="2.2" stroke-dasharray="8.5,7.5"/>
<line x1="631.2" y1="1408.6" x2="692.4" y2="1408.6" stroke="#000" stroke-width="2.2" stroke-linecap="butt"/>
<line x1="631.2" y1="1737.4" x2="692.4" y2="1737.4" stroke="#000" stroke-width="2.2" stroke-linecap="butt"/>
<rect x="601.9" y="1494.9" width="120.4" height="240.9" fill="#ecc65a" stroke="#000" stroke-width="2.2"/>
<rect x="601.9" y="1722.6" width="120.4" height="5.7" fill="#000"/>
<path d="M359.8,1776.6 V1758.0 H662.0 V1776.6" fill="none" stroke="#000" stroke-width="2.2"/>
<line x1="510.7" y1="1758.0" x2="510.7" y2="1776.6" stroke="#000" stroke-width="2.2" stroke-linecap="butt"/>
<line x1="342.6" y1="1259.5" x2="605.9" y2="1259.5" stroke="#000" stroke-width="2.4" stroke-linecap="round"/>
<text x="0" y="0" font-size="33.09" font-style="normal" transform="translate(449.21,1243.95) scale(0.975,1)">ns</text>
<line x1="343.9" y1="1326.5" x2="475.8" y2="1326.5" stroke="#000" stroke-width="2.4" stroke-linecap="round"/>
<text x="0" y="0" font-size="34.36" font-style="normal" transform="translate(379.86,1317.95) scale(0.953,1)">ns</text>
<line x1="508.6" y1="1368.1" x2="640.8" y2="1368.1" stroke="#000" stroke-width="2.4" stroke-linecap="round"/>
<text x="0" y="0" font-size="34.36" font-style="normal" transform="translate(543.89,1358.15) scale(0.937,1)">ns</text>
<text x="0" y="0" font-size="40.5" transform="translate(230.5,1882.5) rotate(-28)">wt<tspan font-size="31" dx="1" dy="-22">s</tspan><tspan dx="-3.5" dy="22"> / wt</tspan><tspan font-size="31" dx="0" dy="-24">r</tspan></text>
<text x="0" y="0" font-size="40.5" transform="translate(302.0,1943.0) rotate(-31.5)"><tspan dx="0" dy="0" font-style="italic">nrpd1</tspan><tspan font-size="31" dx="1" dy="-25.5">s</tspan><tspan dx="0" dy="25.5"> /</tspan><tspan dx="0" dy="0" font-style="italic">nrpd1</tspan><tspan font-size="31" dx="3" dy="-28">r</tspan></text>
<text x="0" y="0" font-size="40.5" transform="translate(520.5,1922.0) rotate(-33.5)"><tspan dx="0" dy="0" font-style="italic">nrpd1</tspan><tspan font-size="31" dx="1" dy="-25.5">s</tspan><tspan dx="0" dy="25.5">/ wt</tspan><tspan font-size="31" dx="-1" dy="-23.5">r</tspan></text>
<path d="M907.0,1250.1 H925.9 V1734.4 H907.0" fill="none" stroke="#000" stroke-width="2.2" stroke-linejoin="miter"/>
<line x1="907.0" y1="1371.2" x2="925.9" y2="1371.2" stroke="#000" stroke-width="2.2" stroke-linecap="butt"/>
<line x1="907.0" y1="1492.3" x2="925.9" y2="1492.3" stroke="#000" stroke-width="2.2" stroke-linecap="butt"/>
<line x1="907.0" y1="1613.3" x2="925.9" y2="1613.3" stroke="#000" stroke-width="2.2" stroke-linecap="butt"/>
<text x="0" y="0" font-size="34.67" font-style="normal" transform="translate(839.04,1262.85) scale(0.994,1)">0.4</text>
<text x="0" y="0" font-size="34.67" font-style="normal" transform="translate(839.47,1383.95) scale(0.995,1)">0.3</text>
<text x="0" y="0" font-size="34.67" font-style="normal" transform="translate(839.69,1505.05) scale(0.996,1)">0.2</text>
<text x="0" y="0" font-size="34.67" font-style="normal" transform="translate(839.70,1626.05) scale(0.990,1)">0.1</text>
<text x="0" y="0" font-size="34.67" font-style="normal" transform="translate(839.26,1747.15) scale(0.995,1)">0.0</text>
<text x="0" y="0" font-size="46.69" transform="translate(812.9,1666.5) rotate(-90)">CHG methylation</text>
<line x1="1025.6" y1="1630.7" x2="1025.6" y2="1689.9" stroke="#000" stroke-width="2.2" stroke-dasharray="8.5,7.5"/>
<line x1="993.2" y1="1630.7" x2="1058.2" y2="1630.7" stroke="#000" stroke-width="2.2" stroke-linecap="butt"/>
<line x1="993.2" y1="1734.8" x2="1058.2" y2="1734.8" stroke="#000" stroke-width="2.2" stroke-linecap="butt"/>
<rect x="960.8" y="1689.9" width="130.1" height="42.5" fill="#a8e6a0" stroke="#000" stroke-width="2.2"/>
<rect x="960.8" y="1727.7" width="130.1" height="4.7" fill="#000"/>
<line x1="1187.6" y1="1715.4" x2="1187.6" y2="1725.3" stroke="#000" stroke-width="2.2" stroke-dasharray="8.5,7.5"/>
<line x1="1154.7" y1="1715.4" x2="1220.2" y2="1715.4" stroke="#000" stroke-width="2.2" stroke-linecap="butt"/>
<line x1="1154.7" y1="1734.8" x2="1220.2" y2="1734.8" stroke="#000" stroke-width="2.2" stroke-linecap="butt"/>
<rect x="1122.5" y="1725.3" width="130.1" height="7.8" fill="#c0c0c0" stroke="#000" stroke-width="2.2"/>
<rect x="1122.5" y="1727.5" width="130.1" height="5.6" fill="#000"/>
<line x1="1349.6" y1="1717.8" x2="1349.6" y2="1725.8" stroke="#000" stroke-width="2.2" stroke-dasharray="8.5,7.5"/>
<line x1="1317.2" y1="1717.8" x2="1381.7" y2="1717.8" stroke="#000" stroke-width="2.2" stroke-linecap="butt"/>
<line x1="1317.2" y1="1734.8" x2="1381.7" y2="1734.8" stroke="#000" stroke-width="2.2" stroke-linecap="butt"/>
<rect x="1284.0" y="1725.8" width="130.1" height="7.1" fill="#ecc65a" stroke="#000" stroke-width="2.2"/>
<rect x="1284.0" y="1725.8" width="130.1" height="7.1" fill="#000"/>
<circle cx="1025.6" cy="1338.1" r="6.3" fill="none" stroke="#000" stroke-width="1.9"/>
<circle cx="1025.6" cy="1364.0" r="6.3" fill="none" stroke="#000" stroke-width="1.9"/>
<circle cx="1025.6" cy="1371.9" r="6.3" fill="none" stroke="#000" stroke-width="1.9"/>
<circle cx="1025.6" cy="1486.2" r="6.3" fill="none" stroke="#000" stroke-width="1.9"/>
<circle cx="1025.6" cy="1504.3" r="6.3" fill="none" stroke="#000" stroke-width="1.9"/>
<circle cx="1025.6" cy="1541.9" r="6.3" fill="none" stroke="#000" stroke-width="1.9"/>
<circle cx="1025.6" cy="1542.4" r="6.3" fill="none" stroke="#000" stroke-width="1.9"/>
<circle cx="1025.6" cy="1564.0" r="6.3" fill="none" stroke="#000" stroke-width="1.9"/>
<circle cx="1025.6" cy="1575.8" r="6.3" fill="none" stroke="#000" stroke-width="1.9"/>
<circle cx="1025.6" cy="1579.3" r="6.3" fill="none" stroke="#000" stroke-width="1.9"/>
<circle cx="1025.6" cy="1589.0" r="6.3" fill="none" stroke="#000" stroke-width="1.9"/>
<circle cx="1025.6" cy="1594.3" r="6.3" fill="none" stroke="#000" stroke-width="1.9"/>
<circle cx="1025.6" cy="1608.4" r="6.3" fill="none" stroke="#000" stroke-width="1.9"/>
<circle cx="1025.6" cy="1611.0" r="6.3" fill="none" stroke="#000" stroke-width="1.9"/>
<circle cx="1025.6" cy="1612.7" r="6.3" fill="none" stroke="#000" stroke-width="1.9"/>
<circle cx="1025.6" cy="1615.4" r="6.3" fill="none" stroke="#000" stroke-width="1.9"/>
<circle cx="1025.6" cy="1617.0" r="6.3" fill="none" stroke="#000" stroke-width="1.9"/>
<circle cx="1025.6" cy="1619.0" r="6.3" fill="none" stroke="#000" stroke-width="1.9"/>
<circle cx="1187.6" cy="1597.7" r="6.3" fill="none" stroke="#000" stroke-width="1.9"/>
<circle cx="1187.6" cy="1630.3" r="6.3" fill="none" stroke="#000" stroke-width="1.9"/>
<circle cx="1187.6" cy="1658.5" r="6.3" fill="none" stroke="#000" stroke-width="1.9"/>
<circle cx="1187.6" cy="1663.8" r="6.3" fill="none" stroke="#000" stroke-width="1.9"/>
<circle cx="1187.6" cy="1679.1" r="6.3" fill="none" stroke="#000" stroke-width="1.9"/>
<circle cx="1187.6" cy="1683.8" r="6.3" fill="none" stroke="#000" stroke-width="1.9"/>
<circle cx="1187.6" cy="1688.4" r="6.3" fill="none" stroke="#000" stroke-width="1.9"/>
<circle cx="1187.6" cy="1693.1" r="6.3" fill="none" stroke="#000" stroke-width="1.9"/>
<circle cx="1187.6" cy="1696.4" r="6.3" fill="none" stroke="#000" stroke-width="1.9"/>
<circle cx="1187.6" cy="1700.4" r="6.3" fill="none" stroke="#000" stroke-width="1.9"/>
<circle cx="1187.6" cy="1704.4" r="6.3" fill="none" stroke="#000" stroke-width="1.9"/>
<circle cx="1187.6" cy="1707.0" r="6.3" fill="none" stroke="#000" stroke-width="1.9"/>
<circle cx="1187.6" cy="1709.7" r="6.3" fill="none" stroke="#000" stroke-width="1.9"/>
<circle cx="1187.6" cy="1712.4" r="6.3" fill="none" stroke="#000" stroke-width="1.9"/>
<circle cx="1187.6" cy="1715.0" r="6.3" fill="none" stroke="#000" stroke-width="1.9"/>
<circle cx="1187.6" cy="1717.0" r="6.3" fill="none" stroke="#000" stroke-width="1.9"/>
<circle cx="1349.6" cy="1596.9" r="6.3" fill="none" stroke="#000" stroke-width="1.9"/>
<circle cx="1349.6" cy="1661.8" r="6.3" fill="none" stroke="#000" stroke-width="1.9"/>
<circle cx="1349.6" cy="1674.0" r="6.3" fill="none" stroke="#000" stroke-width="1.9"/>
<circle cx="1349.6" cy="1683.0" r="6.3" fill="none" stroke="#000" stroke-width="1.9"/>
<circle cx="1349.6" cy="1685.6" r="6.3" fill="none" stroke="#000" stroke-width="1.9"/>
<circle cx="1349.6" cy="1688.2" r="6.3" fill="none" stroke="#000" stroke-width="1.9"/>
<circle cx="1349.6" cy="1690.8" r="6.3" fill="none" stroke="#000" stroke-width="1.9"/>
<circle cx="1349.6" cy="1693.4" r="6.3" fill="none" stroke="#000" stroke-width="1.9"/>
<circle cx="1349.6" cy="1696.0" r="6.3" fill="none" stroke="#000" stroke-width="1.9"/>
<circle cx="1349.6" cy="1698.6" r="6.3" fill="none" stroke="#000" stroke-width="1.9"/>
<circle cx="1349.6" cy="1701.2" r="6.3" fill="none" stroke="#000" stroke-width="1.9"/>
<circle cx="1349.6" cy="1703.8" r="6.3" fill="none" stroke="#000" stroke-width="1.9"/>
<circle cx="1349.6" cy="1706.4" r="6.3" fill="none" stroke="#000" stroke-width="1.9"/>
<circle cx="1349.6" cy="1709.0" r="6.3" fill="none" stroke="#000" stroke-width="1.9"/>
<circle cx="1349.6" cy="1711.6" r="6.3" fill="none" stroke="#000" stroke-width="1.9"/>
<circle cx="1349.6" cy="1714.2" r="6.3" fill="none" stroke="#000" stroke-width="1.9"/>
<circle cx="1349.6" cy="1716.8" r="6.3" fill="none" stroke="#000" stroke-width="1.9"/>
<circle cx="1349.6" cy="1719.4" r="6.3" fill="none" stroke="#000" stroke-width="1.9"/>
<path d="M1025.6,1772.1 V1754.2 H1349.6 V1772.1" fill="none" stroke="#000" stroke-width="2.2"/>
<line x1="1187.6" y1="1754.2" x2="1187.6" y2="1772.1" stroke="#000" stroke-width="2.2" stroke-linecap="butt"/>
<line x1="1036.9" y1="1256.9" x2="1300.3" y2="1256.9" stroke="#000" stroke-width="2.4" stroke-linecap="round"/>
<text x="0" y="0" font-size="34.86" font-style="normal" transform="translate(1156.99,1253.85) scale(1.019,1)">***</text>
<line x1="1046.0" y1="1316.2" x2="1177.8" y2="1316.2" stroke="#000" stroke-width="2.4" stroke-linecap="round"/>
<text x="0" y="0" font-size="32.57" font-style="normal" transform="translate(1094.36,1317.75) scale(1.080,1)">***</text>
<line x1="1200.7" y1="1316.2" x2="1332.7" y2="1316.2" stroke="#000" stroke-width="2.4" stroke-linecap="round"/>
<text x="0" y="0" font-size="33.27" font-style="normal" transform="translate(1236.34,1307.55) scale(0.961,1)">ns</text>
<text x="0" y="0" font-size="40.5" transform="translate(881.0,1865.0) rotate(-28)">wt<tspan font-size="31" dx="1" dy="-22">s</tspan><tspan dx="-3.5" dy="22"> / wt</tspan><tspan font-size="31" dx="0" dy="-24">r</tspan></text>
<text x="0" y="0" font-size="40.5" transform="translate(969.5,1933.0) rotate(-31.5)"><tspan dx="0" dy="0" font-style="italic">nrpd1</tspan><tspan font-size="31" dx="1" dy="-25.5">s</tspan><tspan dx="0" dy="25.5"> /</tspan><tspan dx="0" dy="0" font-style="italic">nrpd1</tspan><tspan font-size="31" dx="3" dy="-28">r</tspan></text>
<text x="0" y="0" font-size="40.5" transform="translate(1190.0,1898.0) rotate(-33.5)"><tspan dx="0" dy="0" font-style="italic">nrpd1</tspan><tspan font-size="31" dx="1" dy="-25.5">s</tspan><tspan dx="0" dy="25.5">/ wt</tspan><tspan font-size="31" dx="-1" dy="-23.5">r</tspan></text>
<path d="M1556.7,1271.5 H1572.4 V1724.7 H1556.7" fill="none" stroke="#000" stroke-width="2.2" stroke-linejoin="miter"/>
<line x1="1556.7" y1="1384.8" x2="1572.4" y2="1384.8" stroke="#000" stroke-width="2.2" stroke-linecap="butt"/>
<line x1="1556.7" y1="1498.1" x2="1572.4" y2="1498.1" stroke="#000" stroke-width="2.2" stroke-linecap="butt"/>
<line x1="1556.7" y1="1611.4" x2="1572.4" y2="1611.4" stroke="#000" stroke-width="2.2" stroke-linecap="butt"/>
<text x="0" y="0" font-size="32.42" font-style="normal" transform="translate(1496.17,1283.65) scale(0.952,1)">0.8</text>
<text x="0" y="0" font-size="32.42" font-style="normal" transform="translate(1496.17,1396.95) scale(0.952,1)">0.6</text>
<text x="0" y="0" font-size="32.42" font-style="normal" transform="translate(1495.77,1510.25) scale(0.955,1)">0.4</text>
<text x="0" y="0" font-size="32.42" font-style="normal" transform="translate(1496.36,1623.55) scale(0.953,1)">0.2</text>
<text x="0" y="0" font-size="32.42" font-style="normal" transform="translate(1495.97,1736.85) scale(0.956,1)">0.0</text>
<text x="0" y="0" font-size="46.91" transform="translate(1467.9,1670.5) rotate(-90)">CHH methylation</text>
<line x1="1659.4" y1="1532.8" x2="1659.4" y2="1646.6" stroke="#000" stroke-width="2.2" stroke-dasharray="8.5,7.5"/>
<line x1="1631.6" y1="1532.8" x2="1687.9" y2="1532.8" stroke="#000" stroke-width="2.2" stroke-linecap="butt"/>
<line x1="1631.6" y1="1724.8" x2="1687.9" y2="1724.8" stroke="#000" stroke-width="2.2" stroke-linecap="butt"/>
<rect x="1602.8" y="1646.6" width="113.0" height="76.5" fill="#a8e6a0" stroke="#000" stroke-width="2.2"/>
<rect x="1602.8" y="1718.6" width="113.0" height="4.5" fill="#000"/>
<line x1="1800.0" y1="1668.3" x2="1800.0" y2="1700.3" stroke="#000" stroke-width="2.2" stroke-dasharray="8.5,7.5"/>
<line x1="1771.0" y1="1668.3" x2="1828.4" y2="1668.3" stroke="#000" stroke-width="2.2" stroke-linecap="butt"/>
<line x1="1771.0" y1="1724.8" x2="1828.4" y2="1724.8" stroke="#000" stroke-width="2.2" stroke-linecap="butt"/>
<rect x="1743.5" y="1700.3" width="112.8" height="22.8" fill="#c0c0c0" stroke="#000" stroke-width="2.2"/>
<rect x="1743.5" y="1718.0" width="112.8" height="5.1" fill="#000"/>
<line x1="1940.1" y1="1677.6" x2="1940.1" y2="1702.4" stroke="#000" stroke-width="2.2" stroke-dasharray="8.5,7.5"/>
<line x1="1911.7" y1="1677.6" x2="1968.6" y2="1677.6" stroke="#000" stroke-width="2.2" stroke-linecap="butt"/>
<line x1="1911.7" y1="1724.8" x2="1968.6" y2="1724.8" stroke="#000" stroke-width="2.2" stroke-linecap="butt"/>
<rect x="1883.8" y="1702.4" width="110.7" height="21.1" fill="#ecc65a"/>
<path d="M1994.5,1702.4 H1883.8 V1723.5 H1994.5" fill="none" stroke="#000" stroke-width="2.2"/>
<rect x="1883.8" y="1718.0" width="110.7" height="5.5" fill="#000"/>
<circle cx="1659.4" cy="1286.4" r="6.3" fill="none" stroke="#000" stroke-width="1.9"/>
<circle cx="1659.4" cy="1369.8" r="6.3" fill="none" stroke="#000" stroke-width="1.9"/>
<circle cx="1659.4" cy="1391.3" r="6.3" fill="none" stroke="#000" stroke-width="1.9"/>
<circle cx="1659.4" cy="1426.6" r="6.3" fill="none" stroke="#000" stroke-width="1.9"/>
<circle cx="1659.4" cy="1457.5" r="6.3" fill="none" stroke="#000" stroke-width="1.9"/>
<circle cx="1659.4" cy="1469.6" r="6.3" fill="none" stroke="#000" stroke-width="1.9"/>
<circle cx="1659.4" cy="1474.6" r="6.3" fill="none" stroke="#000" stroke-width="1.9"/>
<circle cx="1659.4" cy="1477.2" r="6.3" fill="none" stroke="#000" stroke-width="1.9"/>
<circle cx="1659.4" cy="1498.7" r="6.3" fill="none" stroke="#000" stroke-width="1.9"/>
<circle cx="1659.4" cy="1500.4" r="6.3" fill="none" stroke="#000" stroke-width="1.9"/>
<circle cx="1659.4" cy="1513.0" r="6.3" fill="none" stroke="#000" stroke-width="1.9"/>
<circle cx="1659.4" cy="1526.4" r="6.3" fill="none" stroke="#000" stroke-width="1.9"/>
<circle cx="1659.4" cy="1529.0" r="6.3" fill="none" stroke="#000" stroke-width="1.9"/>
<circle cx="1659.4" cy="1530.2" r="6.3" fill="none" stroke="#000" stroke-width="1.9"/>
<circle cx="1800.0" cy="1447.8" r="6.3" fill="none" stroke="#000" stroke-width="1.9"/>
<circle cx="1800.0" cy="1456.7" r="6.3" fill="none" stroke="#000" stroke-width="1.9"/>
<circle cx="1800.0" cy="1510.8" r="6.3" fill="none" stroke="#000" stroke-width="1.9"/>
<circle cx="1800.0" cy="1514.0" r="6.3" fill="none" stroke="#000" stroke-width="1.9"/>
<circle cx="1800.0" cy="1528.0" r="6.3" fill="none" stroke="#000" stroke-width="1.9"/>
<circle cx="1800.0" cy="1533.8" r="6.3" fill="none" stroke="#000" stroke-width="1.9"/>
<circle cx="1800.0" cy="1546.2" r="6.3" fill="none" stroke="#000" stroke-width="1.9"/>
<circle cx="1800.0" cy="1567.6" r="6.3" fill="none" stroke="#000" stroke-width="1.9"/>
<circle cx="1800.0" cy="1571.7" r="6.3" fill="none" stroke="#000" stroke-width="1.9"/>
<circle cx="1800.0" cy="1575.8" r="6.3" fill="none" stroke="#000" stroke-width="1.9"/>
<circle cx="1800.0" cy="1579.1" r="6.3" fill="none" stroke="#000" stroke-width="1.9"/>
<circle cx="1800.0" cy="1589.9" r="6.3" fill="none" stroke="#000" stroke-width="1.9"/>
<circle cx="1800.0" cy="1616.2" r="6.3" fill="none" stroke="#000" stroke-width="1.9"/>
<circle cx="1800.0" cy="1619.5" r="6.3" fill="none" stroke="#000" stroke-width="1.9"/>
<circle cx="1800.0" cy="1623.6" r="6.3" fill="none" stroke="#000" stroke-width="1.9"/>
<circle cx="1800.0" cy="1636.8" r="6.3" fill="none" stroke="#000" stroke-width="1.9"/>
<circle cx="1800.0" cy="1640.9" r="6.3" fill="none" stroke="#000" stroke-width="1.9"/>
<circle cx="1800.0" cy="1645.9" r="6.3" fill="none" stroke="#000" stroke-width="1.9"/>
<circle cx="1800.0" cy="1650.8" r="6.3" fill="none" stroke="#000" stroke-width="1.9"/>
<circle cx="1800.0" cy="1655.8" r="6.3" fill="none" stroke="#000" stroke-width="1.9"/>
<circle cx="1800.0" cy="1662.4" r="6.3" fill="none" stroke="#000" stroke-width="1.9"/>
<circle cx="1940.1" cy="1414.0" r="6.3" fill="none" stroke="#000" stroke-width="1.9"/>
<circle cx="1940.1" cy="1505.8" r="6.3" fill="none" stroke="#000" stroke-width="1.9"/>
<circle cx="1940.1" cy="1510.8" r="6.3" fill="none" stroke="#000" stroke-width="1.9"/>
<circle cx="1940.1" cy="1515.7" r="6.3" fill="none" stroke="#000" stroke-width="1.9"/>
<circle cx="1940.1" cy="1521.5" r="6.3" fill="none" stroke="#000" stroke-width="1.9"/>
<circle cx="1940.1" cy="1547.0" r="6.3" fill="none" stroke="#000" stroke-width="1.9"/>
<circle cx="1940.1" cy="1548.7" r="6.3" fill="none" stroke="#000" stroke-width="1.9"/>
<circle cx="1940.1" cy="1573.4" r="6.3" fill="none" stroke="#000" stroke-width="1.9"/>
<circle cx="1940.1" cy="1581.6" r="6.3" fill="none" stroke="#000" stroke-width="1.9"/>
<circle cx="1940.1" cy="1587.4" r="6.3" fill="none" stroke="#000" stroke-width="1.9"/>
<circle cx="1940.1" cy="1594.8" r="6.3" fill="none" stroke="#000" stroke-width="1.9"/>
<circle cx="1940.1" cy="1601.4" r="6.3" fill="none" stroke="#000" stroke-width="1.9"/>
<circle cx="1940.1" cy="1608.8" r="6.3" fill="none" stroke="#000" stroke-width="1.9"/>
<circle cx="1940.1" cy="1614.6" r="6.3" fill="none" stroke="#000" stroke-width="1.9"/>
<circle cx="1940.1" cy="1626.1" r="6.3" fill="none" stroke="#000" stroke-width="1.9"/>
<circle cx="1940.1" cy="1630.2" r="6.3" fill="none" stroke="#000" stroke-width="1.9"/>
<circle cx="1940.1" cy="1634.3" r="6.3" fill="none" stroke="#000" stroke-width="1.9"/>
<circle cx="1940.1" cy="1647.5" r="6.3" fill="none" stroke="#000" stroke-width="1.9"/>
<circle cx="1940.1" cy="1653.3" r="6.3" fill="none" stroke="#000" stroke-width="1.9"/>
<circle cx="1940.1" cy="1659.9" r="6.3" fill="none" stroke="#000" stroke-width="1.9"/>
<circle cx="1940.1" cy="1665.7" r="6.3" fill="none" stroke="#000" stroke-width="1.9"/>
<circle cx="1940.1" cy="1670.6" r="6.3" fill="none" stroke="#000" stroke-width="1.9"/>
<path d="M1659.3,1758.7 V1742.8 H1940.1 V1758.7" fill="none" stroke="#000" stroke-width="2.2"/>
<line x1="1800.0" y1="1742.8" x2="1800.0" y2="1758.7" stroke="#000" stroke-width="2.2" stroke-linecap="butt"/>
<line x1="1683.4" y1="1252.4" x2="1935.4" y2="1252.4" stroke="#000" stroke-width="2.4" stroke-linecap="round"/>
<text x="0" y="0" font-size="30.57" font-style="normal" transform="translate(1800.44,1245.15) scale(1.128,1)">***</text>
<line x1="1692.6" y1="1314.2" x2="1818.6" y2="1314.2" stroke="#000" stroke-width="2.4" stroke-linecap="round"/>
<text x="0" y="0" font-size="30.29" font-style="normal" transform="translate(1740.13,1312.25) scale(1.136,1)">***</text>
<line x1="1840.7" y1="1314.2" x2="1966.7" y2="1314.2" stroke="#000" stroke-width="2.4" stroke-linecap="round"/>
<text x="0" y="0" font-size="32.91" font-style="normal" transform="translate(1875.90,1303.05) scale(0.979,1)">ns</text>
<text x="0" y="0" font-size="40.5" transform="translate(1539.5,1861.0) rotate(-28)">wt<tspan font-size="31" dx="1" dy="-22">s</tspan><tspan dx="-3.5" dy="22"> / wt</tspan><tspan font-size="31" dx="0" dy="-24">r</tspan></text>
<text x="0" y="0" font-size="40.5" transform="translate(1585.0,1936.0) rotate(-31.5)"><tspan dx="0" dy="0" font-style="italic">nrpd1</tspan><tspan font-size="31" dx="12" dy="-25.5">s</tspan><tspan dx="-6" dy="25.5"> /</tspan><tspan dx="0" dy="0" font-style="italic">nrpd1</tspan><tspan font-size="31" dx="3" dy="-28">r</tspan></text>
<text x="0" y="0" font-size="40.5" transform="translate(1788.0,1903.0) rotate(-33.5)"><tspan dx="0" dy="0" font-style="italic">nrpd1</tspan><tspan font-size="31" dx="7" dy="-25.5">s</tspan><tspan dx="0" dy="25.5">/ wt</tspan><tspan font-size="31" dx="-1" dy="-23.5">r</tspan></text>
</svg>
</body></html>
